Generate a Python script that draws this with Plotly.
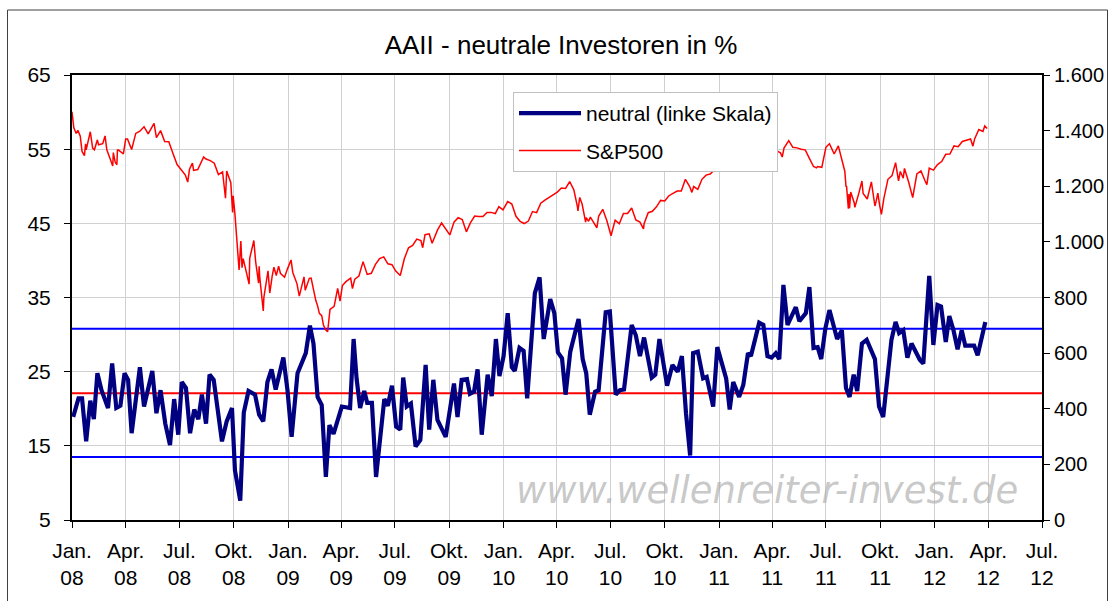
import plotly.graph_objects as go

# ---------------- data ----------------
neutral_dates = [
    "2008-01-03", "2008-01-12", "2008-01-18", "2008-01-25", "2008-02-01", "2008-02-07", "2008-02-13", "2008-02-20",
    "2008-03-02", "2008-03-09", "2008-03-16", "2008-03-23", "2008-03-30", "2008-04-05", "2008-04-11", "2008-04-25",
    "2008-05-02", "2008-05-09", "2008-05-16", "2008-05-23", "2008-05-30", "2008-06-07", "2008-06-15", "2008-06-22",
    "2008-06-29", "2008-07-05", "2008-07-12", "2008-07-19", "2008-07-26", "2008-08-02", "2008-08-08", "2008-08-15",
    "2008-08-21", "2008-08-28", "2008-09-11", "2008-09-19", "2008-09-28", "2008-10-03", "2008-10-12", "2008-10-18",
    "2008-10-26", "2008-11-06", "2008-11-13", "2008-11-20", "2008-11-27", "2008-12-04", "2008-12-11", "2008-12-24",
    "2008-12-31", "2009-01-07", "2009-01-17", "2009-01-31", "2009-02-07", "2009-02-13", "2009-02-20", "2009-02-27",
    "2009-03-06", "2009-03-12", "2009-03-19", "2009-04-02", "2009-04-16", "2009-04-22", "2009-04-27", "2009-05-03",
    "2009-05-10", "2009-05-15", "2009-05-23", "2009-05-30", "2009-06-13", "2009-06-19", "2009-06-26", "2009-07-03",
    "2009-07-10", "2009-07-15", "2009-07-21", "2009-07-28", "2009-08-05", "2009-08-13", "2009-08-22", "2009-08-28",
    "2009-09-04", "2009-09-11", "2009-09-25", "2009-10-09", "2009-10-15", "2009-10-22", "2009-10-31", "2009-11-05",
    "2009-11-12", "2009-11-18", "2009-11-25", "2009-12-05", "2009-12-12", "2009-12-19", "2009-12-25", "2010-01-01",
    "2010-01-08", "2010-01-15", "2010-01-20", "2010-01-28", "2010-02-04", "2010-02-10", "2010-02-23", "2010-03-03",
    "2010-03-10", "2010-03-21", "2010-03-28", "2010-04-03", "2010-04-10", "2010-04-16", "2010-04-24", "2010-05-08",
    "2010-05-15", "2010-05-21", "2010-05-27", "2010-06-05", "2010-06-11", "2010-06-23", "2010-06-30", "2010-07-10",
    "2010-07-17", "2010-07-24", "2010-08-06", "2010-08-13", "2010-08-20", "2010-08-27", "2010-09-09", "2010-09-15",
    "2010-09-22", "2010-10-05", "2010-10-14", "2010-10-23", "2010-10-30", "2010-11-06", "2010-11-13", "2010-11-18",
    "2010-11-26", "2010-12-05", "2010-12-11", "2010-12-22", "2010-12-29", "2011-01-13", "2011-01-19", "2011-01-25",
    "2011-02-04", "2011-02-11", "2011-02-19", "2011-02-24", "2011-03-10", "2011-03-17", "2011-03-24", "2011-03-31",
    "2011-04-07", "2011-04-13", "2011-04-20", "2011-04-27", "2011-05-11", "2011-05-17", "2011-05-28", "2011-06-03",
    "2011-06-10", "2011-06-17", "2011-06-23", "2011-06-30", "2011-07-07", "2011-07-20", "2011-07-28", "2011-08-04",
    "2011-08-10", "2011-08-17", "2011-08-23", "2011-08-31", "2011-09-08", "2011-09-22", "2011-09-29", "2011-10-06",
    "2011-10-20", "2011-10-27", "2011-11-02", "2011-11-09", "2011-11-16", "2011-11-23", "2011-12-07", "2011-12-13",
    "2011-12-23", "2011-12-30", "2012-01-06", "2012-01-12", "2012-01-20", "2012-01-26", "2012-02-02", "2012-02-09",
    "2012-02-16", "2012-02-22", "2012-03-08", "2012-03-14", "2012-03-27",
]
neutral_values = [
    18.9, 21.4, 21.4, 15.6, 21.1, 18.6, 24.8, 22.5,
    20.1, 26.1, 20.1, 20.4, 24.8, 23.9, 16.7, 25.6,
    20.3, 22.5, 25.1, 19.4, 22.5, 18.0, 15.1, 21.3,
    16.5, 23.6, 22.8, 16.7, 19.9, 18.6, 21.9, 18.0,
    24.6, 23.9, 15.6, 18.3, 20.1, 11.7, 7.6, 19.5,
    22.4, 21.9, 19.2, 18.3, 23.6, 25.3, 22.6, 26.9,
    22.5, 16.2, 24.8, 27.5, 31.2, 28.8, 21.6, 20.5,
    10.8, 17.8, 16.6, 20.3, 20.1, 29.4, 24.1, 20.1,
    22.4, 20.8, 20.8, 10.8, 21.3, 20.4, 23.1, 17.6,
    17.2, 24.2, 20.3, 20.7, 14.9, 15.8, 25.9, 17.2,
    23.9, 18.5, 16.2, 23.4, 18.9, 23.9, 24.0, 22.0,
    22.3, 25.3, 16.5, 24.6, 21.7, 29.4, 24.4, 27.1,
    32.9, 25.6, 25.1, 28.2, 27.8, 21.4, 35.6, 37.7,
    29.4, 34.8, 32.9, 27.6, 26.8, 21.9, 27.7, 32.1,
    26.7, 24.8, 19.2, 22.3, 22.5, 33.0, 33.1, 21.9,
    22.5, 22.6, 31.3, 29.9, 27.1, 29.6, 24.2, 24.6,
    29.4, 23.1, 25.9, 25.0, 27.1, 19.4, 13.7, 27.5,
    27.7, 24.1, 24.3, 20.3, 28.3, 24.1, 19.9, 23.6,
    21.6, 23.2, 27.5, 27.1, 31.6, 31.3, 27.1, 26.9,
    27.5, 26.7, 36.7, 31.3, 33.7, 31.8, 32.9, 36.4,
    28.2, 28.3, 26.7, 30.8, 33.3, 29.4, 30.6, 22.8,
    21.6, 24.6, 22.4, 28.8, 29.3, 26.7, 20.3, 18.9,
    29.3, 31.7, 30.2, 30.6, 26.9, 28.8, 26.6, 26.1,
    37.9, 28.6, 34.0, 33.8, 29.0, 32.5, 30.6, 28.0,
    30.6, 28.5, 28.5, 27.2, 31.7,
]

sp_dates = [
    "2008-01-01", "2008-01-04", "2008-01-08", "2008-01-11", "2008-01-15", "2008-01-18", "2008-01-22", "2008-01-24",
    "2008-01-25", "2008-02-01", "2008-02-05", "2008-02-08", "2008-02-13", "2008-02-15", "2008-02-22", "2008-02-26",
    "2008-02-29", "2008-03-07", "2008-03-10", "2008-03-11", "2008-03-14", "2008-03-17", "2008-03-18", "2008-03-20",
    "2008-03-28", "2008-04-01", "2008-04-04", "2008-04-11", "2008-04-18", "2008-04-25", "2008-05-02", "2008-05-09",
    "2008-05-19", "2008-05-23", "2008-05-30", "2008-06-06", "2008-06-13", "2008-06-20", "2008-06-27", "2008-07-03",
    "2008-07-11", "2008-07-15", "2008-07-18", "2008-07-23", "2008-07-25", "2008-08-01", "2008-08-08", "2008-08-11",
    "2008-08-15", "2008-08-22", "2008-08-29", "2008-09-05", "2008-09-12", "2008-09-15", "2008-09-17", "2008-09-19",
    "2008-09-26", "2008-09-29", "2008-09-30", "2008-10-03", "2008-10-07", "2008-10-10", "2008-10-13", "2008-10-15",
    "2008-10-17", "2008-10-22", "2008-10-24", "2008-10-27", "2008-10-28", "2008-10-31", "2008-11-04", "2008-11-07",
    "2008-11-12", "2008-11-13", "2008-11-14", "2008-11-20", "2008-11-21", "2008-11-28", "2008-12-01", "2008-12-05",
    "2008-12-08", "2008-12-12", "2008-12-16", "2008-12-19", "2008-12-26", "2008-12-31",
    "2009-01-06", "2009-01-09", "2009-01-16", "2009-01-20", "2009-01-23", "2009-01-28", "2009-01-30", "2009-02-06",
    "2009-02-09", "2009-02-13", "2009-02-17", "2009-02-20", "2009-02-23", "2009-02-27", "2009-03-02", "2009-03-06",
    "2009-03-09", "2009-03-13", "2009-03-20", "2009-03-26", "2009-03-30", "2009-04-03", "2009-04-09", "2009-04-17",
    "2009-04-20", "2009-04-24", "2009-05-01", "2009-05-08", "2009-05-15", "2009-05-22", "2009-05-29", "2009-06-05",
    "2009-06-12", "2009-06-19", "2009-06-26", "2009-07-02", "2009-07-10", "2009-07-17", "2009-07-24", "2009-07-31",
    "2009-08-07", "2009-08-14", "2009-08-17", "2009-08-21", "2009-08-28", "2009-09-02", "2009-09-11", "2009-09-18",
    "2009-09-25", "2009-10-02", "2009-10-09", "2009-10-16", "2009-10-23", "2009-10-30", "2009-11-06", "2009-11-13",
    "2009-11-20", "2009-11-27", "2009-12-04", "2009-12-11", "2009-12-18", "2009-12-24", "2009-12-31",
    "2010-01-08", "2010-01-15", "2010-01-22", "2010-01-29", "2010-02-05", "2010-02-12", "2010-02-19", "2010-02-26",
    "2010-03-05", "2010-03-12", "2010-03-19", "2010-03-26", "2010-04-02", "2010-04-09", "2010-04-16", "2010-04-23",
    "2010-04-30", "2010-05-06", "2010-05-07", "2010-05-10", "2010-05-14", "2010-05-20", "2010-05-21", "2010-05-25",
    "2010-05-28", "2010-06-04", "2010-06-08", "2010-06-11", "2010-06-18", "2010-06-25", "2010-07-02", "2010-07-09",
    "2010-07-16", "2010-07-23", "2010-07-30", "2010-08-06", "2010-08-13", "2010-08-20", "2010-08-26", "2010-08-27",
    "2010-09-03", "2010-09-10", "2010-09-17", "2010-09-24", "2010-10-01", "2010-10-08", "2010-10-15", "2010-10-22",
    "2010-10-29", "2010-11-05", "2010-11-12", "2010-11-16", "2010-11-19", "2010-11-26", "2010-12-03", "2010-12-10",
    "2010-12-17", "2010-12-23", "2010-12-31",
    "2011-01-07", "2011-01-14", "2011-01-21", "2011-01-28", "2011-02-04", "2011-02-11", "2011-02-18", "2011-02-25",
    "2011-03-04", "2011-03-11", "2011-03-16", "2011-03-18", "2011-03-25", "2011-04-01", "2011-04-08", "2011-04-15",
    "2011-04-18", "2011-04-21", "2011-04-29", "2011-05-06", "2011-05-13", "2011-05-20", "2011-05-27", "2011-06-03",
    "2011-06-10", "2011-06-15", "2011-06-17", "2011-06-24", "2011-07-01", "2011-07-07", "2011-07-15", "2011-07-22",
    "2011-07-29", "2011-08-02", "2011-08-04", "2011-08-05", "2011-08-08", "2011-08-09", "2011-08-10", "2011-08-11",
    "2011-08-12", "2011-08-18", "2011-08-19", "2011-08-26", "2011-08-31", "2011-09-02", "2011-09-09", "2011-09-16",
    "2011-09-22", "2011-09-23", "2011-09-27", "2011-09-30", "2011-10-03", "2011-10-07", "2011-10-14", "2011-10-21",
    "2011-10-27", "2011-11-01", "2011-11-04", "2011-11-09", "2011-11-11", "2011-11-18", "2011-11-25", "2011-12-02",
    "2011-12-09", "2011-12-16", "2011-12-19", "2011-12-23", "2011-12-30",
    "2012-01-06", "2012-01-13", "2012-01-20", "2012-01-27", "2012-02-03", "2012-02-10", "2012-02-17", "2012-02-24",
    "2012-03-02", "2012-03-06", "2012-03-09", "2012-03-16", "2012-03-23", "2012-03-26", "2012-03-30",
]
sp_values = [
    1468, 1411, 1390, 1401, 1380, 1325, 1310, 1353,
    1331, 1396, 1337, 1331, 1367, 1349, 1353, 1381,
    1331, 1294, 1273, 1321, 1288, 1277, 1330, 1330,
    1316, 1370, 1370, 1332, 1390, 1398, 1414, 1388,
    1426, 1375, 1400, 1361, 1360, 1318, 1278, 1262,
    1240, 1215, 1261, 1283, 1257, 1260, 1296, 1305,
    1298, 1292, 1283, 1242, 1252, 1193, 1157, 1255,
    1213, 1106, 1166, 1099, 996, 899, 1003, 907,
    940, 896, 877, 848, 941, 969, 1005, 930,
    852, 912, 873, 752, 800, 896, 816, 876,
    909, 879, 913, 887, 873, 903,
    935, 890, 850, 805, 832, 874, 826, 869,
    870, 827, 789, 770, 743, 735, 700, 683,
    677, 757, 768, 833, 787, 843, 857, 870,
    832, 866, 877, 929, 883, 887, 919, 940,
    946, 921, 918, 896, 879, 940, 979, 987,
    1010, 1005, 979, 1026, 1029, 995, 1042, 1068,
    1044, 1025, 1071, 1087, 1080, 1036, 1069, 1093,
    1091, 1091, 1106, 1106, 1102, 1127, 1115,
    1145, 1136, 1092, 1074, 1066, 1075, 1109, 1105,
    1139, 1150, 1160, 1167, 1179, 1194, 1192, 1217,
    1187, 1128, 1111, 1160, 1136, 1071, 1087, 1074,
    1089, 1065, 1050, 1092, 1117, 1076, 1022, 1078,
    1065, 1102, 1102, 1122, 1079, 1071, 1047, 1065,
    1105, 1110, 1126, 1149, 1147, 1166, 1176, 1183,
    1183, 1225, 1200, 1178, 1199, 1189, 1225, 1240,
    1244, 1257, 1258,
    1272, 1293, 1283, 1276, 1311, 1329, 1343, 1320,
    1321, 1304, 1257, 1279, 1313, 1332, 1328, 1320,
    1305, 1337, 1364, 1340, 1338, 1333, 1331, 1300,
    1271, 1266, 1271, 1268, 1340, 1353, 1316, 1345,
    1292, 1254, 1200, 1199, 1119, 1172, 1121, 1172,
    1179, 1140, 1124, 1177, 1219, 1174, 1154, 1216,
    1129, 1136, 1175, 1131, 1099, 1155, 1225, 1238,
    1285, 1219, 1253, 1229, 1264, 1216, 1159, 1244,
    1255, 1219, 1206, 1265, 1258,
    1278, 1289, 1315, 1316, 1345, 1342, 1361, 1366,
    1370, 1344, 1371, 1404, 1397, 1417, 1408,
]

# reference levels (left scale): upper band, mean, lower band
band_levels = [30.8, 22.1, 13.5]
band_colors = ["#0000FF", "#FF0000", "#0000FF"]

tick_dates = [
    "2008-01-01", "2008-04-01", "2008-07-01", "2008-10-01", "2009-01-01", "2009-04-01",
    "2009-07-01", "2009-10-01", "2010-01-01", "2010-04-01", "2010-07-01", "2010-10-01",
    "2011-01-01", "2011-04-01", "2011-07-01", "2011-10-01", "2012-01-01", "2012-04-01",
    "2012-07-01",
]
tick_labels = [
    "Jan.<br>08", "Apr.<br>08", "Jul.<br>08", "Okt.<br>08", "Jan.<br>09", "Apr.<br>09",
    "Jul.<br>09", "Okt.<br>09", "Jan.<br>10", "Apr.<br>10", "Jul.<br>10", "Okt.<br>10",
    "Jan.<br>11", "Apr.<br>11", "Jul.<br>11", "Okt.<br>11", "Jan.<br>12", "Apr.<br>12",
    "Jul.<br>12",
]
left_ticks = [5, 15, 25, 35, 45, 55, 65]
right_ticks = [0, 200, 400, 600, 800, 1000, 1200, 1400, 1600]
right_labels = ["0", "200", "400", "600", "800", "1.000", "1.200", "1.400", "1.600"]

x_start, x_end = "2008-01-01", "2012-07-01"

# ---------------- figure ----------------
FONT = "Liberation Sans, Arial, sans-serif"
fig = go.Figure()

for lvl, col in zip(band_levels, band_colors):
    fig.add_trace(go.Scatter(
        x=[x_start, x_end], y=[lvl, lvl], mode="lines",
        line=dict(color=col, width=2), showlegend=False, hoverinfo="skip",
    ))

fig.add_trace(go.Scatter(
    x=neutral_dates, y=neutral_values, mode="lines", name="neutral (linke Skala)",
    line=dict(color="#000080", width=4.2), legendgroup="a",
))
fig.add_trace(go.Scatter(
    x=sp_dates, y=sp_values, mode="lines", name="S&P500", yaxis="y2",
    line=dict(color="#FF0000", width=1.5), legendgroup="b",
))

W, H = 1115, 601
L, R, T, B = 72, 73, 75, 81
pw, ph = W - L - R, H - T - B


def px_x(p):
    return (p - L) / pw


def px_y(p):
    return (H - B - p) / ph


fig.update_layout(
    width=W, height=H,
    margin=dict(l=L, r=R, t=T, b=B, autoexpand=False),
    paper_bgcolor="white", plot_bgcolor="white",
    font=dict(family=FONT, size=21, color="black"),
    title=dict(text="AAII - neutrale Investoren in %", x=561 / W, xanchor="center",
               y=1 - 45 / H, yanchor="middle", font=dict(size=26, family=FONT)),
    xaxis=dict(
        type="date", range=[x_start, x_end], tickmode="array",
        tickvals=tick_dates, ticktext=tick_labels,
        showgrid=True, gridcolor="#D0D0D0", gridwidth=1,
        showline=True, linecolor="black", linewidth=1.5, mirror=True,
        ticks="outside", ticklen=6, tickcolor="black",
        tickfont=dict(size=21), ticklabelstandoff=5,
    ),
    yaxis=dict(
        range=[5, 65], tickmode="array", tickvals=left_ticks,
        showgrid=True, gridcolor="#D0D0D0", gridwidth=1, zeroline=False,
        showline=True, linecolor="black", linewidth=2,
        ticks="outside", ticklen=6, tickcolor="black", tickfont=dict(size=21),
        ticklabelstandoff=9,
    ),
    yaxis2=dict(
        range=[0, 1600], overlaying="y", side="right", tickmode="array",
        tickvals=right_ticks, ticktext=right_labels, showgrid=False, zeroline=False,
        showline=True, linecolor="black", linewidth=2,
        ticks="outside", ticklen=6, tickcolor="black", tickfont=dict(size=20),
    ),
    legend=dict(
        x=px_x(513), y=px_y(92), xanchor="left", yanchor="top",
        bgcolor="white", bordercolor="#C0C0C0", borderwidth=1,
        font=dict(size=21, family=FONT), tracegroupgap=7, itemwidth=62,
    ),
    showlegend=True,
)

# watermark
fig.add_annotation(
    text="www.wellenreiter-invest.de", xref="paper", yref="paper",
    x=px_x(767), y=px_y(490), xanchor="center", yanchor="middle", showarrow=False,
    font=dict(family="DejaVu Sans, Verdana, sans-serif", size=37, color="rgba(170,170,170,0.65)",
              style="italic"),
)

# outer chart frame
fig.add_shape(
    type="rect", xref="paper", yref="paper",
    x0=px_x(7.5), x1=px_x(1107.5), y0=px_y(610), y1=px_y(10),
    line=dict(color="#404040", width=1), fillcolor="rgba(0,0,0,0)", layer="above",
)

fig.write_html(
    "out.html",
    config={"displayModeBar": False},
    post_script="document.body.style.margin='0';document.body.style.overflow='hidden';",
)
